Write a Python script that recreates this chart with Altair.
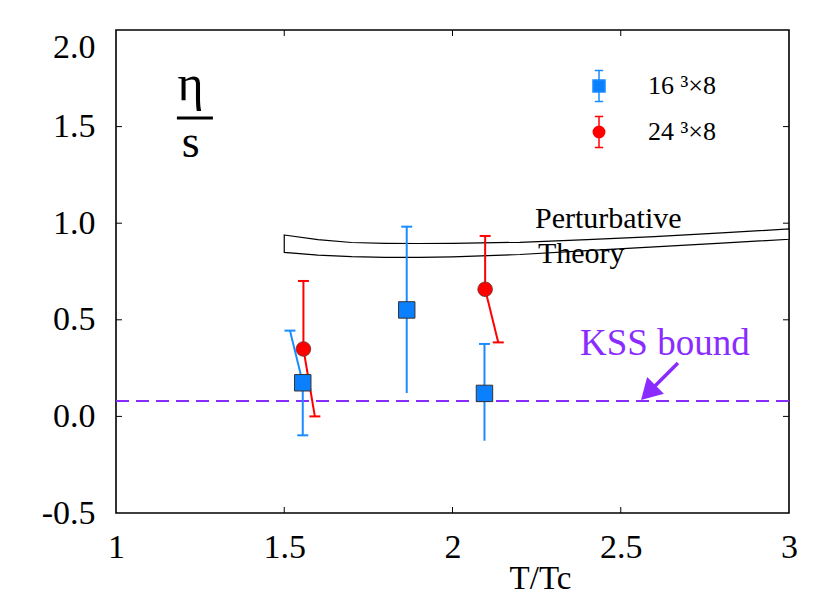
import altair as alt
import pandas as pd

# ---------------- data ----------------
band_x = [1.5, 1.6, 1.7, 1.8, 1.9, 2.0, 2.2, 2.4, 2.6, 2.8, 3.0]
band_upper = [0.939, 0.915, 0.900, 0.896, 0.895, 0.896, 0.901, 0.915, 0.930, 0.950, 0.970]
band_lower = [0.849, 0.835, 0.827, 0.823, 0.823, 0.826, 0.838, 0.858, 0.877, 0.897, 0.917]

blue_x = [1.555, 1.864, 2.095]
blue_y = [0.174, 0.551, 0.119]
red_x = [1.557, 2.097]
red_y = [0.349, 0.658]

# error-bar segments (series, x1, y1, x2, y2)
seg_series = ["blue", "blue", "blue", "blue", "red", "red", "red", "red"]
seg_x1 = [1.555, 1.555, 1.864, 2.095, 1.557, 1.557, 2.097, 2.097]
seg_y1 = [0.174, 0.174, 0.121, -0.126, 0.349, 0.349, 0.658, 0.658]
seg_x2 = [1.517, 1.555, 1.864, 2.095, 1.557, 1.591, 2.097, 2.136]
seg_y2 = [0.444, -0.098, 0.982, 0.375, 0.701, 0.000, 0.934, 0.383]

kss_value = [0.0796]

x_ticks = [1, 1.5, 2, 2.5, 3]
y_ticks = [-0.5, 0.0, 0.5, 1.0, 1.5, 2.0]

legend_labels = ["16 \u00b3\u00d78", "24 \u00b3\u00d78"]

# annotations
text_labels = ["Perturbative", "Theory"]
text_x = [2.245, 2.254]
text_y = [0.975, 0.794]

kss_label = ["KSS bound"]
kss_label_x = [2.379]
kss_label_y = [0.318]

arrow_tail_x = [2.670]
arrow_tail_y = [0.276]
arrow_head_x = [2.589]
arrow_head_y = [0.135]

frac_top = ["\u03b7"]
frac_bottom = ["s"]
frac_x = [1.222]
frac_top_y = [1.638]
frac_bottom_y = [1.343]
frac_bar_x = [1.181]
frac_bar_x2 = [1.288]
frac_bar_y = [1.545]

# ---------------- styles ----------------
FONT = "Liberation Serif"
W, H = 673, 483
BLUE = "#0a80ff"
BLUE_BAR = "#1a8cff"
RED = "#ff0000"
PURPLE = "#8a2cff"

xs = alt.Scale(domain=[1, 3], nice=False, zero=False)
ys = alt.Scale(domain=[-0.5, 2.0], nice=False, zero=False)

x_axis = alt.Axis(values=x_ticks, format="~g", ticks=False, tickSize=0, domain=False, grid=False,
                  labelFont=FONT, labelFontSize=34, labelColor="black", labelBaseline="alphabetic",
                  labelPadding=44, labelFlush=False, labelOverlap=False,
                  title="T/Tc", titleFont=FONT, titleFontSize=33, titleFontWeight="normal",
                  titleColor="black", titleX=424, titleY=75, titleAlign="center",
                  titleBaseline="alphabetic")
y_axis = alt.Axis(values=y_ticks, ticks=False, tickSize=0, domain=False, grid=False,
                  labelExpr="datum.value < 0 ? '-' + format(-datum.value, '.1f') : format(datum.value, '.1f')",
                  labelFont=FONT, labelFontSize=34, labelColor="black", labelPadding=21,
                  labelBaseline=alt.expr("datum.value == 2 ? 'top' : 'middle'"),
                  labelFlush=False, labelOverlap=False, title=None)


def X(f):
    return alt.X(f, type="quantitative", scale=xs, axis=x_axis)


def Y(f):
    return alt.Y(f, type="quantitative", scale=ys, axis=y_axis)


band_df = pd.DataFrame({"x": band_x, "up": band_upper, "lo": band_lower})
blue_df = pd.DataFrame({"x": blue_x, "y": blue_y})
red_df = pd.DataFrame({"x": red_x, "y": red_y})
seg_df = pd.DataFrame({"s": seg_series, "x1": seg_x1, "y1": seg_y1, "x2": seg_x2, "y2": seg_y2})
kss_df = pd.DataFrame({"y": kss_value})
txt_df = pd.DataFrame({"t": text_labels, "x": text_x, "y": text_y})
kss_txt_df = pd.DataFrame({"t": kss_label, "x": kss_label_x, "y": kss_label_y})
arrow_df = pd.DataFrame({"x1": arrow_tail_x, "y1": arrow_tail_y, "x2": arrow_head_x, "y2": arrow_head_y})
frac_df = pd.DataFrame({"top": frac_top, "bot": frac_bottom, "x": frac_x, "yt": frac_top_y,
                        "yb": frac_bottom_y, "bx": frac_bar_x, "bx2": frac_bar_x2, "by": frac_bar_y})
xt_df = pd.DataFrame({"x": x_ticks[1:-1]})
yt_df = pd.DataFrame({"y": y_ticks[1:-1]})
leg_df = pd.DataFrame({"series": legend_labels})

band = alt.Chart(band_df).mark_area(fill="white", stroke="black", strokeWidth=1.2).encode(
    x=X("x"), y=Y("up"), y2="lo")

texts = alt.Chart(txt_df).mark_text(font=FONT, fontSize=30, align="left", baseline="alphabetic",
                                    color="black").encode(x=X("x"), y=Y("y"), text="t")

kss_line = alt.Chart(kss_df).mark_rule(color=PURPLE, strokeWidth=2, strokeDash=[13, 7]).encode(y=Y("y"))

kss_text = alt.Chart(kss_txt_df).mark_text(font=FONT, fontSize=37, align="left", baseline="alphabetic",
                                           color=PURPLE).encode(x=X("x"), y=Y("y"), text="t")

arrow_shaft = alt.Chart(arrow_df).mark_rule(color=PURPLE, strokeWidth=3.5).encode(
    x=X("x1"), y=Y("y1"), x2="x2", y2="y2")
arrow_head = alt.Chart(arrow_df).mark_point(shape="triangle", angle=225, size=560, filled=True,
                                            fill=PURPLE, opacity=1, strokeWidth=0).encode(
    x=X("x2"), y=Y("y2"))

frac_t = alt.Chart(frac_df).mark_text(font=FONT, fontSize=50, align="center", baseline="alphabetic",
                                      color="black").encode(x=X("x"), y=Y("yt"), text="top")
frac_b = alt.Chart(frac_df).mark_text(font=FONT, fontSize=46, align="center", baseline="alphabetic",
                                      color="black").encode(x=X("x"), y=Y("yb"), text="bot")
frac_bar = alt.Chart(frac_df).mark_rule(color="black", strokeWidth=3).encode(
    x=X("bx"), x2="bx2", y=Y("by"))

bar_color = alt.Color("s:N", scale=alt.Scale(domain=["blue", "red"], range=[BLUE_BAR, RED]), legend=None)
err = alt.Chart(seg_df).mark_rule(strokeWidth=2).encode(
    x=X("x1"), y=Y("y1"), x2="x2", y2="y2", color=bar_color)
caps = alt.Chart(seg_df).mark_tick(orient="horizontal", size=11, thickness=2, opacity=1).encode(
    x=X("x2"), y=Y("y2"), color=bar_color)

blue_pts = alt.Chart(blue_df).mark_point(shape="square", size=270, filled=True, fill=BLUE,
                                         stroke="#333333", strokeWidth=1, opacity=1).encode(
    x=X("x"), y=Y("y"))
red_pts = alt.Chart(red_df).mark_point(shape="circle", size=215, filled=True, fill=RED,
                                       stroke="#663333", strokeWidth=0.8, opacity=1).encode(
    x=X("x"), y=Y("y"))

tick_b = alt.Chart(xt_df).mark_rule(color="black", strokeWidth=1).encode(
    x=X("x"), y=alt.value(H), y2=alt.value(H - 6))
tick_t = alt.Chart(xt_df).mark_rule(color="black", strokeWidth=1).encode(
    x=X("x"), y=alt.value(0), y2=alt.value(6))
tick_l = alt.Chart(yt_df).mark_rule(color="black", strokeWidth=1).encode(
    y=Y("y"), x=alt.value(0), x2=alt.value(6))
tick_r = alt.Chart(yt_df).mark_rule(color="black", strokeWidth=1).encode(
    y=Y("y"), x=alt.value(W), x2=alt.value(W - 6))

# legend (symbols with error whiskers)
sq_path = "M-1,-1H1V1H-1Z M0,-1V-2.6 M-0.7,-2.6H0.7 M0,1V2.6 M-0.7,2.6H0.7"
ci_path = ("M0.95,0A0.95,0.95,0,1,1,-0.95,0A0.95,0.95,0,1,1,0.95,0Z "
           "M0,-0.95V-2.6 M-0.7,-2.6H0.7 M0,0.95V2.6 M-0.7,2.6H0.7")
leg = alt.Legend(title=None, orient="none", legendX=470, legendY=43, labelFont=FONT,
                 labelFontSize=26, labelColor="black", labelOffset=36, rowPadding=8,
                 symbolSize=144, symbolStrokeWidth=1.5, symbolOpacity=1, padding=0)
legend_layer = alt.Chart(leg_df).mark_point(filled=True, opacity=1).encode(
    x=X("x:Q"), y=Y("y:Q"),
    shape=alt.Shape("series:N", scale=alt.Scale(domain=legend_labels, range=[sq_path, ci_path]), legend=leg),
    fill=alt.Fill("series:N", scale=alt.Scale(domain=legend_labels, range=[BLUE, RED]), legend=leg),
    stroke=alt.Stroke("series:N", scale=alt.Scale(domain=legend_labels, range=[BLUE_BAR, RED]), legend=leg),
).transform_filter("false")

chart = alt.layer(
    band, texts, kss_line, kss_text, arrow_shaft, arrow_head, frac_t, frac_b, frac_bar,
    err, caps, blue_pts, red_pts, tick_b, tick_t, tick_l, tick_r, legend_layer
).properties(
    width=W, height=H,
    autosize=alt.AutoSizeParams(type="none"),
    padding={"left": 108, "top": 22, "right": 30, "bottom": 85},
).configure_view(stroke="black", strokeWidth=1.6)

chart.save("out.html", embed_options={"renderer": "svg", "actions": False})
